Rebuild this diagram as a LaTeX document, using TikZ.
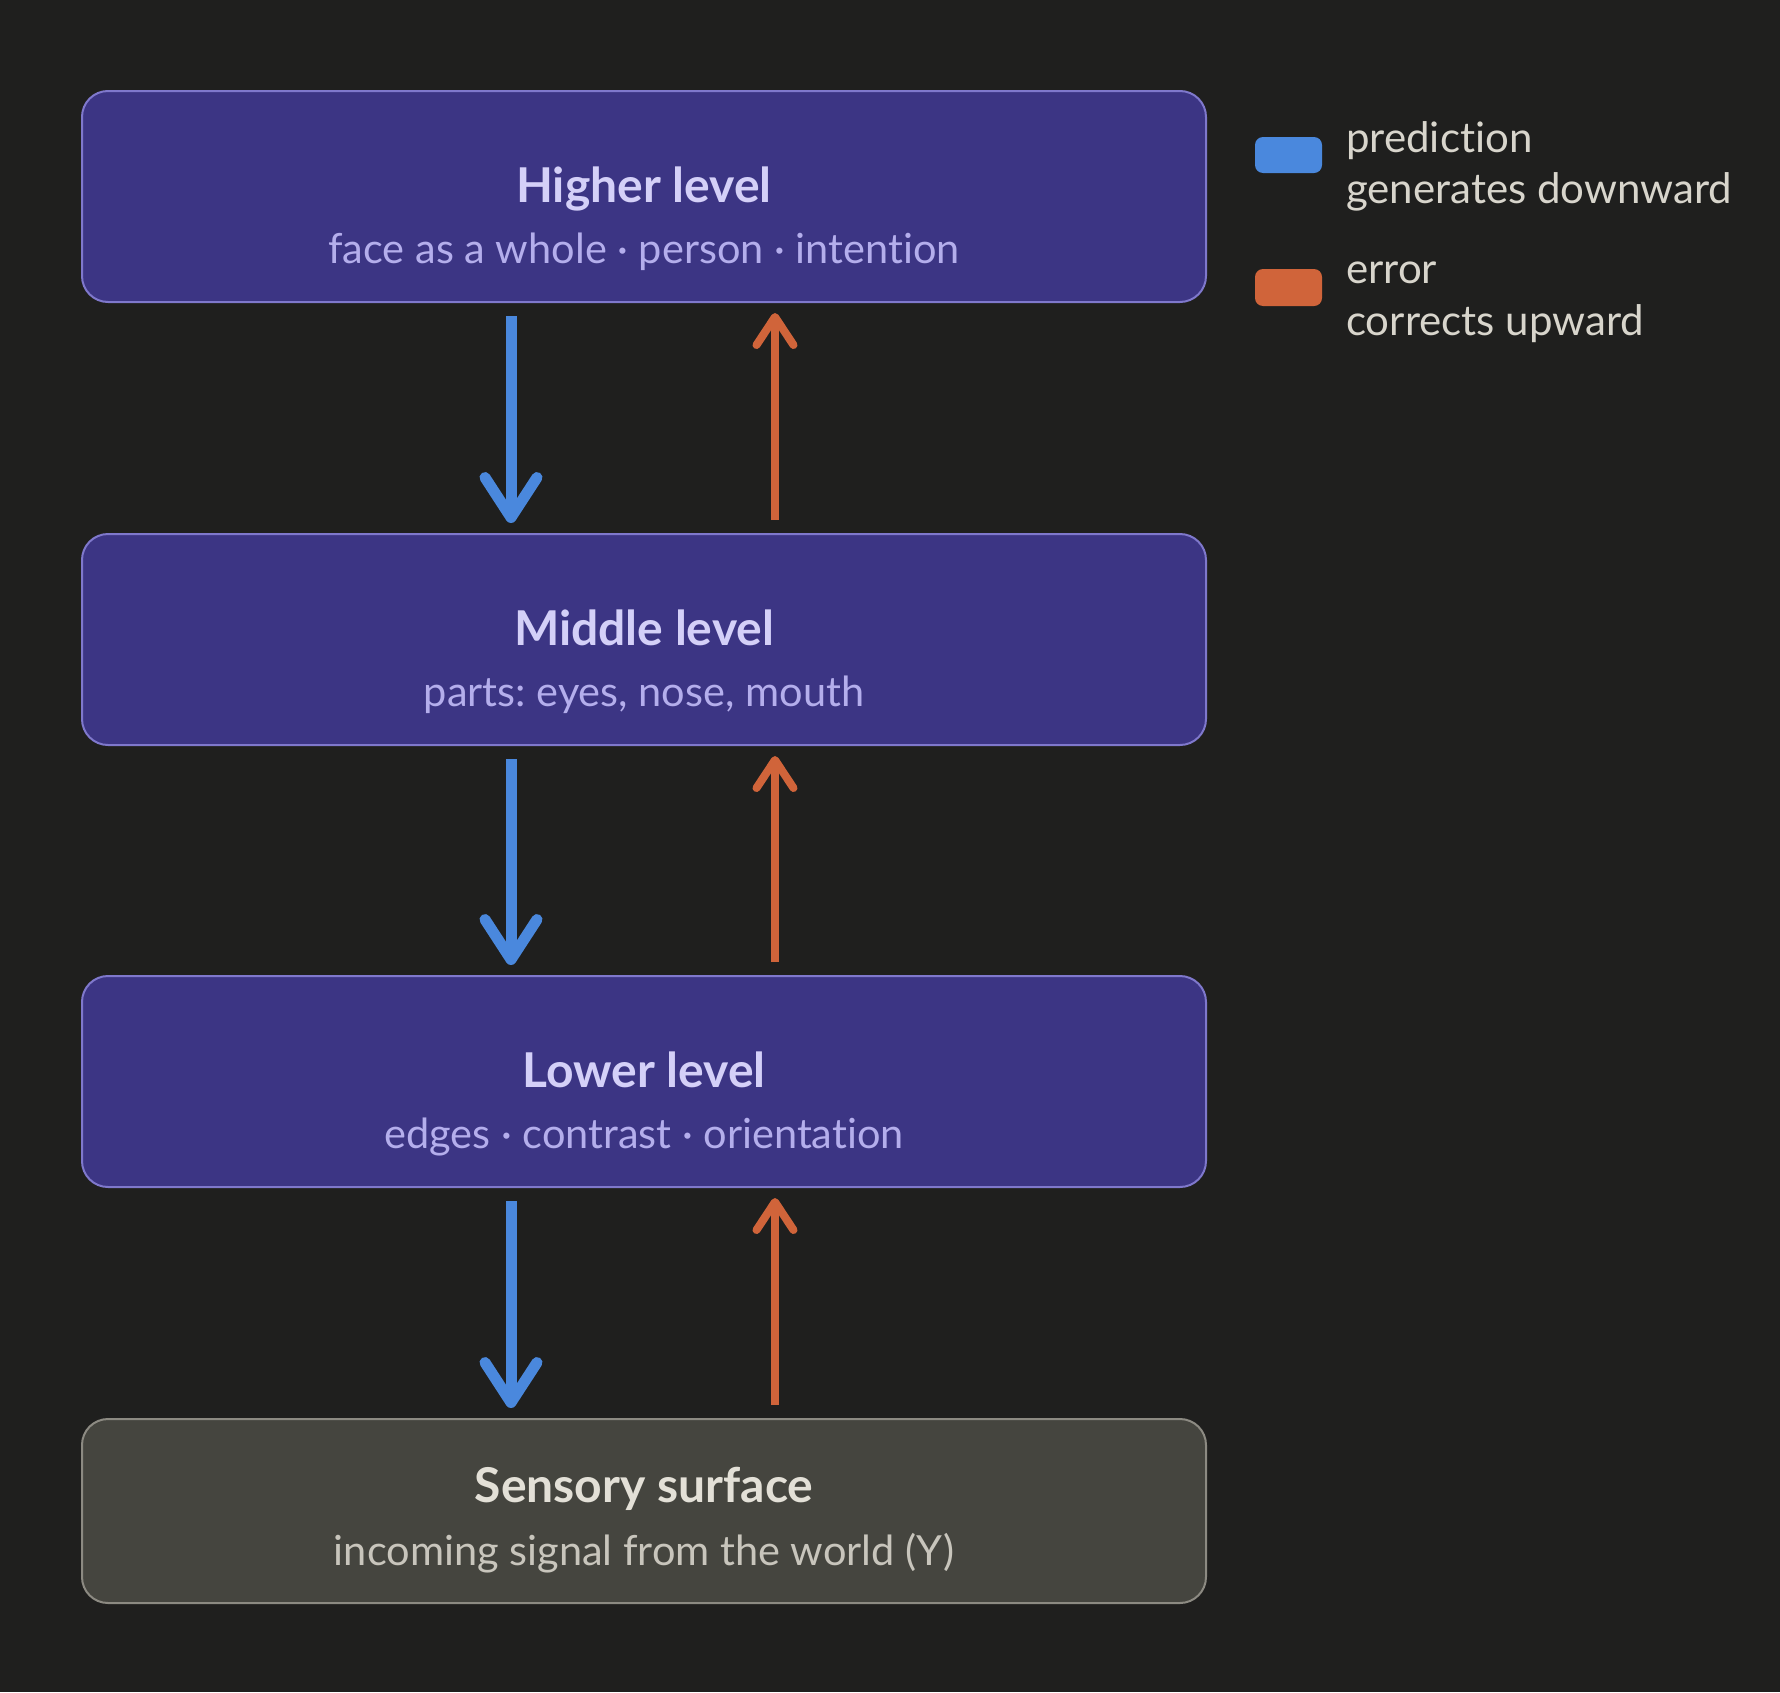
\documentclass[tikz,border=0pt]{standalone}
\usepackage{fontspec}
\setmainfont{Lato}[Ligatures=NoCommon]
\usetikzlibrary{arrows.meta}
\frenchspacing
\definecolor{bg}{HTML}{1F1F1E}
\definecolor{lvlfill}{HTML}{3C3584}
\definecolor{lvlborder}{HTML}{7F78CC}
\definecolor{lvltitle}{HTML}{D4D0F8}
\definecolor{lvlsub}{HTML}{B4AEEC}
\definecolor{senfill}{HTML}{45453F}
\definecolor{senborder}{HTML}{8C8A82}
\definecolor{sentitle}{HTML}{E3E0D7}
\definecolor{sensub}{HTML}{C8C5BC}
\definecolor{legtext}{HTML}{D8D5CC}
\definecolor{predblue}{HTML}{4A88DD}
\definecolor{errorange}{HTML}{D0643A}
\tikzset{
  lvl/.style={draw=lvlborder, fill=lvlfill, line width=2pt, rounded corners=26pt,
    minimum width=1124pt, minimum height=211pt, inner sep=0pt},
  senbox/.style={lvl, draw=senborder, fill=senfill, minimum height=184pt},
  ttl/.style={anchor=base, inner sep=0pt, font=\fontsize{48}{54}\selectfont\bfseries, text=lvltitle},
  sub/.style={anchor=base, inner sep=0pt, font=\fontsize{41.5}{48}\selectfont, text=lvlsub},
  leg/.style={anchor=base west, inner sep=0pt, font=\fontsize{42}{48}\selectfont, text=legtext},
  swatch/.style={rounded corners=8pt},
  pred/.style={draw=predblue, line width=11pt,
    -{Straight Barb[length=40pt, width=52pt, round]}},
  err/.style={draw=errorange, line width=8pt,
    -{Straight Barb[length=28pt, width=37pt, round]}}
}
\begin{document}
\begin{tikzpicture}[x=1pt,y=-1pt]
\fill[bg] (0,0) rectangle (1780,1692);
\useasboundingbox (0,0) rectangle (1780,1692);

\node[lvl] (h) at (644,196.5) {};
\node[lvl] (m) at (644,639.5) {};
\node[lvl] (l) at (644,1081.5) {};
\node[senbox] (s) at (644,1511) {};

\node[ttl] (ht) at ([yshift=-5.5pt]h.center) {Higher level};
\node[sub] (hs) at ([yshift=-66.5pt]h.center) {face as a whole · person · intention};
\node[ttl] (mt) at ([yshift=-5.5pt]m.center) {Middle level};
\node[sub] (ms) at ([yshift=-66.5pt]m.center) {parts: eyes, nose, mouth};
\node[ttl] (lt) at ([yshift=-5.5pt]l.center) {Lower level};
\node[sub] (ls) at ([yshift=-66.5pt]l.center) {edges · contrast · orientation};
\node[ttl, text=sentitle] (st) at ([yshift=9pt]s.center) {Sensory surface};
\node[sub, text=sensub] (ss) at ([yshift=-54pt]s.center) {incoming signal from the world (Y)};

\foreach \a/\b in {h/m, m/l, l/s} {
  \draw[pred] ([xshift=-133pt,yshift=-13pt]\a.south) -- ([xshift=-133pt,yshift=10pt]\b.north);
  \draw[err] ([xshift=131pt,yshift=13pt]\b.north) -- ([xshift=131pt,yshift=-10pt]\a.south);
}

\fill[predblue, swatch] (1255,137) rectangle (1322,173);
\fill[errorange, swatch] (1255,269) rectangle (1322,306);
\node[leg] (p1) at (1346,152) {prediction};
\node[leg] (p2) at (1346,203) {generates downward};
\node[leg] (e1) at (1346,283) {error};
\node[leg] (e2) at (1346,335) {corrects upward};
\end{tikzpicture}
\end{document}
